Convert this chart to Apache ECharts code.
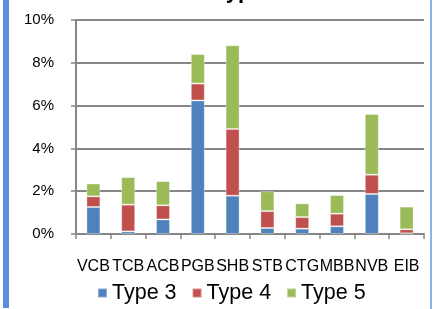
<!DOCTYPE html>
<html>
<head>
<meta charset="utf-8">
<script src="https://cdn.jsdelivr.net/npm/echarts@6/dist/echarts.min.js"></script>
<style>
  body { margin: 0; background: #fff; }
  #wrap { position: relative; width: 433px; height: 309px; overflow: hidden; }
  #chart { width: 433px; height: 309px; }
  .edgeL { position: absolute; left: 3px; top: 0; width: 6px; height: 308px; background: #5b8fd8; }
  .edgeR { position: absolute; left: 430px; top: 0; width: 2px; height: 309px; background: #8db3e6; }
</style>
</head>
<body>
<div id="wrap">
  <div id="chart"></div>
  <div class="edgeL"></div>
  <div class="edgeR"></div>
</div>
<script>
// banks on the x axis
const banks = ["VCB", "TCB", "ACB", "PGB", "SHB", "STB", "CTG", "MBB", "NVB", "EIB"];
// share of each type, in %
const type3 = [1.26, 0.12, 0.68, 6.24, 1.79, 0.28, 0.25, 0.36, 1.87, 0.03];
const type4 = [0.50, 1.25, 0.66, 0.79, 3.12, 0.79, 0.54, 0.59, 0.90, 0.19];
const type5 = [0.60, 1.29, 1.13, 1.38, 3.91, 0.93, 0.64, 0.87, 2.84, 1.06];
const yTicks = [0, 2, 4, 6, 8, 10];

const colors = ["#4f81bd", "#c0504d", "#9bbb59"];
const gridGray = "#868686";

const chart = echarts.init(document.getElementById("chart"));

function stackSeries(name, data) {
  return {
    name: name,
    type: "bar",
    stack: "all",
    barWidth: 14,
    data: data,
    itemStyle: { borderColor: "rgba(255,255,255,0.35)", borderWidth: 1 },
  };
}

const option = {
  animation: false,
  color: colors,
  textStyle: { fontFamily: "Arial, 'Liberation Sans', sans-serif" },
  graphic: [
    {
      type: "text",
      left: 214,
      top: -19,
      style: { text: "Types", font: "bold 22px Arial, 'Liberation Sans', sans-serif", fill: "#000" },
    },
  ],
  grid: { left: 76, right: 9, top: 20, bottom: 75 },
  legend: {
    left: 97,
    top: 282,
    padding: 0,
    icon: "rect",
    itemWidth: 9,
    itemHeight: 9,
    itemGap: 15,
    textStyle: { fontSize: 21.5, color: "#000" },
  },
  xAxis: {
    type: "category",
    data: banks,
    axisLine: { lineStyle: { color: gridGray, width: 2 } },
    axisTick: { show: true, length: 5, lineStyle: { color: gridGray, width: 1.5 } },
    axisLabel: { interval: 0, fontSize: 16, color: "#000", margin: 25 },
  },
  yAxis: {
    type: "value",
    min: yTicks[0],
    max: yTicks[yTicks.length - 1],
    interval: 2,
    axisLine: { show: true, lineStyle: { color: gridGray, width: 2 } },
    axisTick: { show: true, length: 5, lineStyle: { color: gridGray, width: 1.5 } },
    axisLabel: { formatter: "{value}%", fontSize: 15, color: "#000", margin: 22 },
    splitLine: { lineStyle: { color: gridGray, width: 2 } },
  },
  series: [stackSeries("Type 3", type3), stackSeries("Type 4", type4), stackSeries("Type 5", type5)],
};

chart.setOption(option);
</script>
</body>
</html>
